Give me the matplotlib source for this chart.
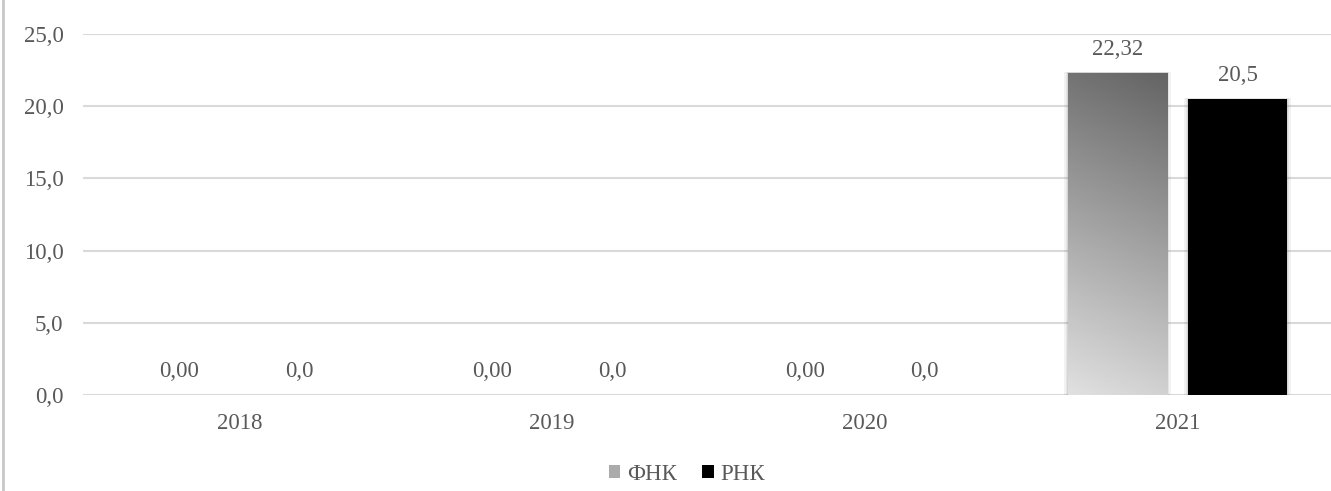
import numpy as np
import matplotlib
matplotlib.use("Agg")
import matplotlib.pyplot as plt
from matplotlib.patches import Rectangle, Patch
from matplotlib.lines import Line2D

years = ["2018", "2019", "2020", "2021"]
fnk = [0.0, 0.0, 0.0, 22.32]
rnk = [0.0, 0.0, 0.0, 20.5]
fnk_labels = ["0,00", "0,00", "0,00", "22,32"]
rnk_labels = ["0,0", "0,0", "0,0", "20,5"]
yticks = [0, 5, 10, 15, 20, 25]
series_names = ["ФНК", "РНК"]

plt.rcParams['font.family'] = ['Liberation Serif', 'DejaVu Serif']
txt = "#595959"
fs = 16.5

fig = plt.figure(figsize=(13.31, 4.91), dpi=100)
ax = fig.add_axes([83/1331, 96/491, 4*312.7/1331, 361/491])

# gradient image for the grey bars (dark top, light bottom)
grad = np.linspace(0.42, 0.85, 256)[:, None] * np.ones((1, 64))
grad = grad + np.linspace(0.03, -0.03, 64)[None, :]

w = 0.317
off = 0.192
x = np.arange(len(years))

def shadow(x0, y1):
    for k, a in [(0.012, 0.10), (0.007, 0.12), (0.003, 0.15)]:
        ax.add_patch(Rectangle((x0 - k, 0), w + 2*k, y1 + k*6, color="#808080",
                               alpha=a, lw=0, zorder=2))

for i in range(len(years)):
    x0 = x[i] - off - w/2
    if fnk[i] > 0:
        shadow(x0, fnk[i])
        r = Rectangle((x0, 0), w, fnk[i], facecolor="none", lw=0, zorder=3)
        ax.add_patch(r)
        im = ax.imshow(grad[::-1], cmap="gray", vmin=0, vmax=1, aspect="auto",
                       extent=[x0, x0 + w, 0, fnk[i]], origin="lower", zorder=3)
        im.set_clip_path(r)
    ax.text(x[i] - off, fnk[i] + 0.9, fnk_labels[i], ha="center", va="bottom",
            fontsize=fs, color=txt)

    x1 = x[i] + off - w/2
    if rnk[i] > 0:
        shadow(x1, rnk[i])
        ax.bar(x[i] + off, rnk[i], w, color="black", zorder=3)
    ax.text(x[i] + off, rnk[i] + 0.9, rnk_labels[i], ha="center", va="bottom",
            fontsize=fs, color=txt)

ax.set_xlim(-0.5, 3.5)
ax.set_ylim(0, 25)
ax.set_xticks(x)
ax.set_xticklabels(years)
ax.set_yticks(yticks)
ax.set_yticklabels([f"{v:.1f}".replace(".", ",") for v in yticks])
ax.tick_params(axis="both", length=0, labelsize=fs, labelcolor=txt)
ax.tick_params(axis="y", pad=14)
ax.tick_params(axis="x", pad=13)
ax.grid(axis="y", color="#d9d9d9", lw=1.5, zorder=0)
ax.set_axisbelow(True)
for s in ax.spines.values():
    s.set_visible(False)

handles = [Patch(facecolor="#ababab", edgecolor="none"),
           Patch(facecolor="black", edgecolor="none")]
fig.legend(handles, series_names, loc="center", bbox_to_anchor=(687/1331, 1 - 474/491),
           ncol=2, frameon=False, fontsize=fs, labelcolor=txt, handlelength=0.5,
           handleheight=0.5, handletextpad=0.3, columnspacing=1.1)

# thin frame line on the left edge
fig.add_artist(Line2D([3/1331, 3/1331], [0, 1], transform=fig.transFigure,
                      color="#c8c8c8", lw=2))

fig.savefig("out.png", dpi=100)
